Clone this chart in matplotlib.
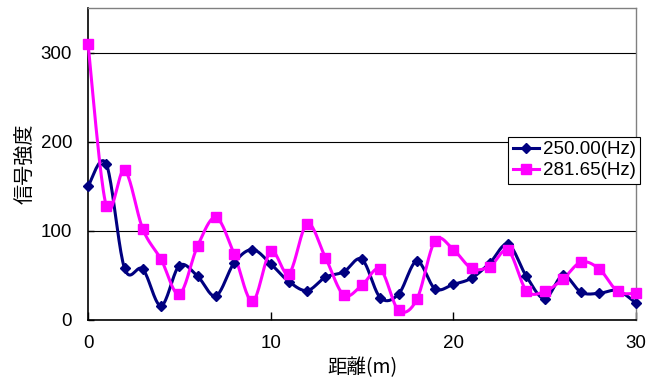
import numpy as np
import matplotlib
matplotlib.use("Agg")
import matplotlib.pyplot as plt
from matplotlib.lines import Line2D

plt.rcParams['font.family'] = ['Liberation Sans', 'Noto Sans CJK JP']
CJK = ['Noto Sans CJK JP', 'Liberation Sans']

# Distance (m) and signal strength for the two frequencies
distance = list(range(0, 31))
sig_250 = [150, 175, 58, 57, 16, 61, 49, 27, 64, 79,
           63, 43, 33, 48, 54, 68, 25, 29, 66, 35,
           40, 47, 64, 85, 49, 24, 50, 31, 30, 33, 19]
sig_281 = [310, 128, 168, 102, 68, 29, 83, 115, 74, 21,
           77, 52, 108, 70, 28, 39, 57, 11, 23, 89,
           79, 58, 60, 78, 33, 32, 46, 65, 57, 32, 30]
series_labels = ['250.00(Hz)', '281.65(Hz)']
x_ticks = [0, 10, 20, 30]
y_ticks = [0, 100, 200, 300]


def smooth_curve(x, y, steps=20):
    """Cubic Bezier smoothing through every point (Catmull-Rom style)."""
    x = np.asarray(x, float)
    y = np.asarray(y, float)
    px = np.concatenate([[x[0]], x, [x[-1]]])
    py = np.concatenate([[y[0]], y, [y[-1]]])
    xs, ys = [], []
    t = np.linspace(0, 1, steps, endpoint=False)
    for i in range(1, len(px) - 2):
        p0 = np.array([px[i], py[i]])
        p3 = np.array([px[i + 1], py[i + 1]])
        c1 = p0 + (np.array([px[i + 1], py[i + 1]]) - np.array([px[i - 1], py[i - 1]])) / 6
        c2 = p3 - (np.array([px[i + 2], py[i + 2]]) - np.array([px[i], py[i]])) / 6
        b = ((1 - t) ** 3)[:, None] * p0 + (3 * (1 - t) ** 2 * t)[:, None] * c1 \
            + (3 * (1 - t) * t ** 2)[:, None] * c2 + (t ** 3)[:, None] * p3
        xs.append(b[:, 0])
        ys.append(b[:, 1])
    xs.append([x[-1]])
    ys.append([y[-1]])
    return np.concatenate(xs), np.concatenate(ys)


fig = plt.figure(figsize=(6.59, 3.80), dpi=100)
ax = fig.add_axes([88 / 659, 60 / 380, 548 / 659, 312 / 380])

navy = '#000080'
magenta = '#FF00FF'

sx, sy = smooth_curve(distance, sig_250)
ax.plot(sx, sy, color=navy, lw=2.2, zorder=3, clip_on=False)
ax.plot(distance, sig_250, ls='none', marker='D', ms=5.5, color=navy,
        zorder=4, clip_on=False)

sx, sy = smooth_curve(distance, sig_281)
ax.plot(sx, sy, color=magenta, lw=2.2, zorder=3, clip_on=False)
ax.plot(distance, sig_281, ls='none', marker='s', ms=7, color=magenta,
        zorder=4, clip_on=False)

ax.set_xlim(0, 30)
ax.set_ylim(0, 350)
ax.set_xticks(x_ticks)
ax.set_yticks(y_ticks)
ax.grid(axis='y', color='black', lw=0.8)
ax.set_axisbelow(True)

for side in ('top', 'right'):
    ax.spines[side].set_color('#808080')
    ax.spines[side].set_linewidth(1.0)
for side in ('left', 'bottom'):
    ax.spines[side].set_color('black')
    ax.spines[side].set_linewidth(1.2)

ax.tick_params(axis='x', direction='in', length=6, width=1, pad=11,
               labelsize=13.5)
ax.tick_params(axis='y', direction='in', length=4, width=1, pad=11.5,
               labelsize=13.5)

ax.set_xlabel('距離(m)', fontsize=14, family=CJK, va='center')
ax.xaxis.set_label_coords(0.5, -0.154)
ax.set_ylabel('信号強度', fontsize=14.5, family=CJK, va='center')
ax.yaxis.set_label_coords(-0.115, 0.50)

handles = [
    Line2D([], [], color=navy, lw=2.2, marker='D', ms=5.5),
    Line2D([], [], color=magenta, lw=2.2, marker='s', ms=7),
]
leg = ax.legend(handles, series_labels, loc='upper right',
                bbox_to_anchor=(1.008, 0.588), fontsize=13.5,
                frameon=True, fancybox=False, framealpha=1,
                edgecolor='black', handlelength=1.4, handletextpad=0.2,
                borderpad=0.25, labelspacing=0.2, borderaxespad=0)
leg.get_frame().set_linewidth(0.8)
leg.set_zorder(5)

fig.savefig('out.png', dpi=100, facecolor='white')
